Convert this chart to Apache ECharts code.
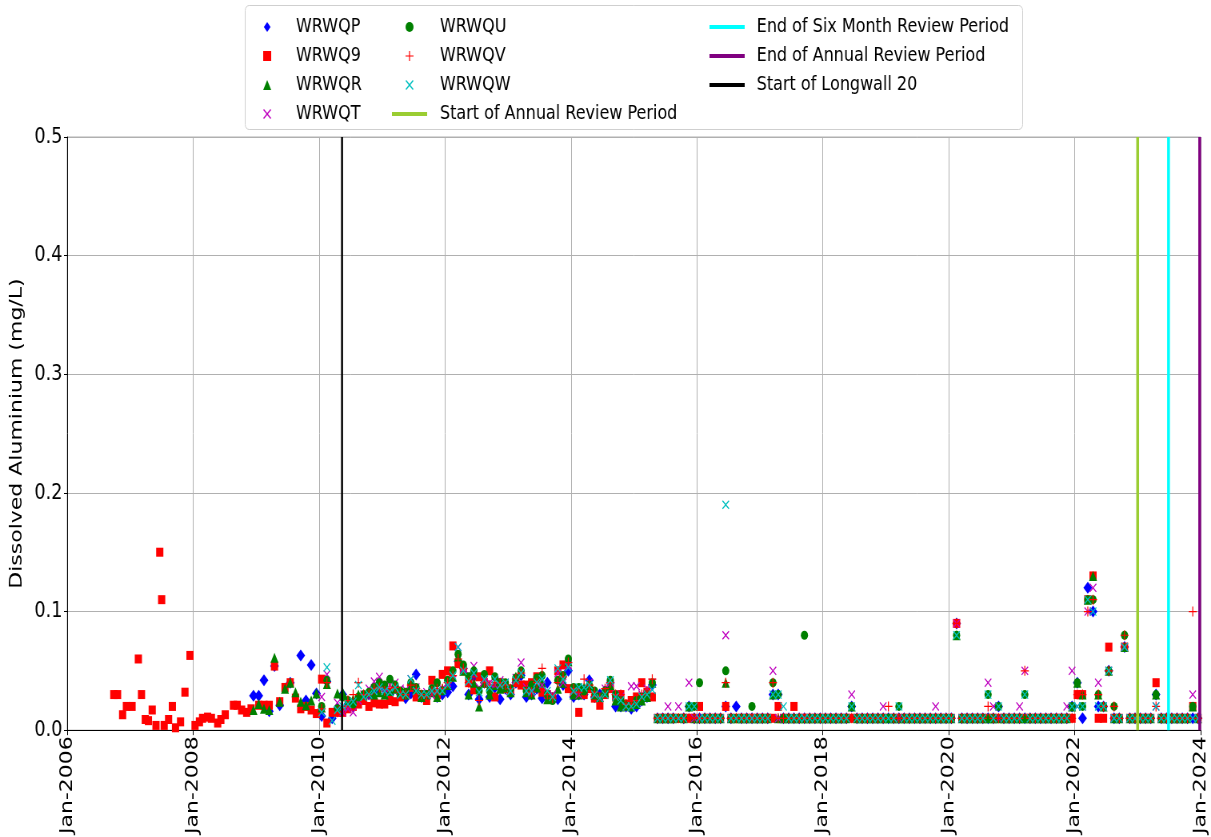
<!DOCTYPE html>
<html>
<head>
<meta charset="utf-8">
<script src="https://cdn.jsdelivr.net/npm/echarts@6/dist/echarts.min.js"></script>
<style>
  html, body { margin: 0; padding: 0; overflow: hidden; background: #fff; }
  /* reference picture is squeezed horizontally, draw wide then squeeze */
  #chart { width: 1514px; height: 837px; transform: scaleX(0.79987); transform-origin: 0 0; }
</style>
</head>
<body>
<div id="chart"></div>
<script>
const _ = null;

// axis ticks
const xTicks = [2006, 2008, 2010, 2012, 2014, 2016, 2018, 2020, 2022, 2024];
const yTicks = [0, 0.1, 0.2, 0.3, 0.4, 0.5];

// event dates (decimal years)
const longwallStart = 2010.365;
const annualStart = 2023.0;
const sixMonthEnd = 2023.49;
const annualEnd = 2023.985;

// WRWQ9 early samples (irregular), decimal year / mg/L
const wrwq9EarlyYear = [2006.74, 2006.80, 2006.88, 2006.94, 2007.03, 2007.13, 2007.18, 2007.24, 2007.29, 2007.35,
  2007.41, 2007.47, 2007.50, 2007.54, 2007.61, 2007.67, 2007.72, 2007.80, 2007.87, 2007.95,
  2008.03, 2008.10, 2008.15, 2008.23, 2008.29, 2008.39, 2008.44, 2008.51, 2008.64, 2008.70,
  2008.77, 2008.85, 2008.92];
const wrwq9EarlyVal = [.030, .030, .013, .020, .020, .060, .030, .009, .008, .017,
  .004, .150, .110, .004, .009, .020, .002, .007, .032, .063,
  .004, .007, .010, .011, .010, .006, .009, .013, .021, .021,
  .017, .015, .018];

// monthly samples from Jan 2008 (one row per year)
const START_YEAR = 2008;
const wrwqpVals = [
  _,_,_,_,_,_,_,_,_,_,_,.029,
  .029,.042,.016,.054,.021,_,.040,_,.063,.025,.055,.031,
  .012,.041,.010,.018,.030,.022,.020,.026,.028,.030,.033,.039,
  .034,.030,.036,.030,.027,.031,.047,.028,.027,.033,.028,.030,
  .032,.037,.058,.052,.030,.045,.026,.040,.028,.036,.026,.035,
  .030,.040,.046,.028,.030,.035,.027,.040,.027,.026,.038,.050,
  .028,.030,.030,.042,.028,.030,.033,.040,.020,.020,.020,.018,
  .020,.025,.028,.038,.010,.010,.010,.010,_,.010,.020,.010,
  .010,.010,.010,.010,.010,.020,.010,.020,.010,.010,.010,.010,
  .010,.010,.030,.030,.010,.010,.010,.010,.010,.010,.010,.010,
  .010,.010,.010,.010,.010,.020,.010,.010,.010,.010,.010,.010,
  .010,.010,.010,.010,.010,.010,.010,.010,.010,.010,.010,.010,
  .010,.090,.010,.010,.010,.010,.010,.010,.010,.020,.010,.010,
  .010,.010,.010,.010,.010,.010,.010,.010,.010,.010,.010,.020,
  .040,.010,.120,.100,.020,.020,.050,.010,.010,.070,.010,.010,
  .010,.010,.010,.030,.010,.010,.010,.010,.010,.010,.010,.010
];
const wrwq9Vals = [
  _,_,_,_,_,_,_,_,_,_,_,_,
  .021,.021,.021,.054,.024,.036,.040,.027,.018,.020,.017,.014,
  .043,.006,.015,.015,.015,.018,.020,.022,.025,.020,.023,.022,
  .022,.025,.024,.028,.030,.036,.028,.030,.025,.042,.030,.047,
  .050,.071,.056,.050,.040,.034,.045,.040,.050,.028,.040,.035,
  .032,.040,.038,.038,.040,.045,.032,.030,.028,.050,.055,.035,
  .032,.015,.030,.035,.027,.021,.030,.035,.028,.030,.022,.025,
  .028,.040,.032,.028,.010,.010,.010,.010,.010,.010,.010,.010,
  .020,.010,.010,.010,.010,.020,.010,.010,.010,.010,.010,.010,
  .010,.010,.010,.020,.010,.010,.020,.010,.010,.010,.010,.010,
  .010,.010,.010,.010,.010,.010,.010,.010,.010,.010,.010,.010,
  .010,.010,.010,.010,.010,.010,.010,.010,.010,.010,.010,.010,
  .010,.090,.010,.010,.010,.010,.010,.010,.010,.010,.010,.010,
  .010,.010,.010,.010,.010,.010,.010,.010,.010,.010,.010,.010,
  .030,.030,.110,.130,.010,.010,.070,.010,.010,.070,.010,.010,
  .010,.010,.010,.040,.010,.010,.010,.010,.010,.010,.020,.010
];
const wrwqrVals = [
  _,_,_,_,_,_,_,_,_,_,_,.017,
  .022,.018,.017,.061,.024,.035,.040,.032,.024,.021,.025,.031,
  .019,.039,_,.031,.032,.025,.026,.030,.030,.032,.030,.032,
  .030,.033,.035,.032,.030,.038,.035,.028,.030,.032,.028,.035,
  .038,.045,.062,.050,.030,.040,.020,.040,.030,.038,.035,.036,
  .032,.045,.048,.032,.030,.036,.040,.026,.028,.035,.040,.058,
  .030,.030,.036,.038,.030,.028,.032,.038,.025,.020,.022,.020,
  .022,.025,.028,.040,.010,.010,.010,.010,_,.010,.020,.010,
  .010,.010,.010,.010,.010,.040,.010,.010,.010,.010,.010,.010,
  .010,.010,.030,.010,.010,.010,.010,.010,.010,.010,.010,.010,
  .010,.010,.010,.010,.010,.020,.010,.010,.010,.010,.010,.010,
  .010,.010,.010,.010,.010,.010,.010,.010,.010,.010,.010,.010,
  .010,.080,.010,.010,.010,.010,.010,.010,.010,.010,.010,.010,
  .010,.010,.010,.010,.010,.010,.010,.010,.010,.010,.010,.020,
  .040,.030,.110,.130,.030,.020,.050,.010,.010,.070,.010,.010,
  .010,.010,.010,.030,.010,.010,.010,.010,.010,.010,.020,.010
];
const wrwqtVals = [
  _,_,_,_,_,_,_,_,_,_,_,_,
  _,_,_,_,_,_,_,_,_,_,_,_,
  .028,.047,_,.023,.015,.018,.015,.025,.030,.035,.041,.045,
  .036,.038,.040,.035,.034,.043,.036,.030,.032,.030,.036,.035,
  .040,.048,.070,.052,.047,.054,.036,.042,.040,.038,.042,.040,
  .036,.044,.057,.036,.032,.042,.038,.030,.030,.048,.040,.055,
  .033,.030,.035,.040,.030,.028,.035,.040,.030,.028,.020,.037,
  .037,.030,.035,.040,.010,.010,.020,.010,.020,.010,.040,.010,
  .010,.010,.010,.010,.010,.080,.010,.010,.010,.010,.010,.010,
  .010,.010,.050,.010,.010,.010,.010,.010,.010,.010,.010,.010,
  .010,.010,.010,.010,.010,.030,.010,.010,.010,.010,.010,.020,
  .010,.010,.010,.010,.010,.010,.010,.010,.010,.020,.010,.010,
  .010,.090,.010,.010,.010,.010,.010,.040,.020,.010,.010,.010,
  .010,.020,.050,.010,.010,.010,.010,.010,.010,.010,.020,.050,
  .020,.020,.100,.120,.040,.020,.050,.010,.010,.070,.010,.010,
  .010,.010,.010,.020,.010,.010,.010,.010,.010,.010,.030,.010
];
const wrwquVals = [
  _,_,_,_,_,_,_,_,_,_,_,_,
  _,_,_,_,_,_,_,_,_,_,_,_,
  .020,.042,_,.018,.028,.025,.022,.028,.030,.032,.036,.040,
  .038,.043,.038,.033,.032,.040,.036,.030,.030,.035,.040,.033,
  .042,.050,.064,.055,.045,.050,.033,.047,.033,.045,.040,.040,
  .035,.044,.050,.033,.038,.044,.046,.030,.025,.042,.046,.060,
  .036,.036,.033,.038,.033,.028,.033,.042,.030,.025,.020,.020,
  .025,.028,.030,.040,.010,.010,.010,.010,.010,.010,.020,.020,
  .040,.010,.010,.010,.010,.050,.010,.010,.010,.010,.020,.010,
  .010,.010,.040,.030,.010,.010,.010,.010,.080,.010,.010,.010,
  .010,.010,.010,.010,.010,.020,.010,.010,.010,.010,.010,.010,
  .010,.010,.020,.010,.010,.010,.010,.010,.010,.010,.010,.010,
  .010,.080,.010,.010,.010,.010,.010,.030,.010,.020,.010,.010,
  .010,.010,.030,.010,.010,.010,.010,.010,.010,.010,.010,.020,
  .040,.020,.110,.110,.030,.020,.050,.020,.010,.080,.010,.010,
  .010,.010,.010,.030,.010,.010,.010,.010,.010,.010,.020,.010
];
const wrwqvVals = [
  _,_,_,_,_,_,_,_,_,_,_,_,
  _,_,_,_,_,_,_,_,_,_,_,_,
  .018,.040,_,.015,.020,.025,.030,.040,.030,.030,.035,.036,
  .033,.035,.036,.032,.030,.038,.035,.030,.028,.033,.035,.035,
  .040,.046,.060,.052,.040,.045,.025,.040,.038,.040,.040,.038,
  .035,.043,.048,.035,.032,.040,.052,.030,.027,.040,.045,.057,
  .035,.032,.043,.038,.032,.028,.035,.040,.030,.030,.022,.022,
  .025,.030,.033,.043,.010,.010,.010,.010,.010,.010,.010,.010,
  .010,.010,.010,.010,.010,.040,.010,.010,.010,.010,.010,.010,
  .010,.010,.040,.010,.010,.010,.010,.010,.010,.010,.010,.010,
  .010,.010,.010,.010,.010,.010,.010,.010,.010,.010,.010,.010,
  .020,.010,.010,.010,.010,.010,.010,.010,.010,.010,.010,.010,
  .010,.090,.010,.010,.010,.010,.010,.020,.010,.010,.010,.010,
  .010,.010,.050,.010,.010,.010,.010,.010,.010,.010,.010,.010,
  .030,.030,.100,.110,.030,.020,.050,.020,.010,.080,.010,.010,
  .010,.010,.010,.020,.010,.010,.010,.010,.010,.010,.100,.010
];
const wrwqwVals = [
  _,_,_,_,_,_,_,_,_,_,_,_,
  _,_,_,_,_,_,_,_,_,_,_,_,
  .015,.053,.008,.017,.020,.022,.024,.038,.028,.030,.033,.036,
  .033,.032,.036,.030,.030,.043,.033,.030,.030,.033,.033,.033,
  .038,.046,.070,.050,.041,.048,.032,.043,.036,.043,.038,.040,
  .033,.042,.048,.033,.033,.040,.043,.033,.028,.052,.043,.053,
  .033,.036,.036,.038,.030,.027,.030,.042,.028,.025,.020,.020,
  .022,.028,.030,.034,.010,.010,.010,.010,.010,.010,.020,.020,
  .010,.010,.010,.010,.010,.190,.010,.010,.010,.010,.010,.010,
  .010,.010,.030,.030,.020,.010,.010,.010,.010,.010,.010,.010,
  .010,.010,.010,.010,.010,.020,.010,.010,.010,.010,.010,.010,
  .010,.010,.020,.010,.010,.010,.010,.010,.010,.010,.010,.010,
  .010,.080,.010,.010,.010,.010,.010,.030,.010,.020,.010,.010,
  .010,.010,.030,.010,.010,.010,.010,.010,.010,.010,.010,.020,
  .020,.020,.110,.100,.020,.020,.050,.010,.010,.070,.010,.010,
  .010,.010,.010,.020,.010,.010,.010,.010,.010,.010,.010,.010
];

// --- marker shapes ---
const xPath = 'path://M0,1L1,0L5,4L9,0L10,1L6,5L10,9L9,10L5,6L1,10L0,9L4,5Z';
const plusPath = 'path://M4.4,0H5.6V4.4H10V5.6H5.6V10H4.4V5.6H0V4.4H4.4Z';
const diamondPath = 'path://M5,0L10,6L5,12L0,6Z';
const squarePath = 'path://M0,0H10V10H0Z';
const trianglePath = 'path://M5,0L10,10H0Z';
const barPath = 'path://M0,0H44V4H0Z';

const FONT = 'DejaVu Sans';

function monthly(vals) {
  const out = [];
  vals.forEach((v, i) => {
    if (v !== null) out.push([START_YEAR + (i + 0.5) / 12, v]);
  });
  return out;
}

function scatter(name, data, symbol, size, color) {
  return {
    name, type: 'scatter', data, symbol, symbolSize: size,
    itemStyle: { color, opacity: 1 },
    emphasis: { disabled: true },
    z: 2
  };
}

function vline(name, x, color, width) {
  return {
    name, type: 'line', data: [[x, 0], [x, 0.5]],
    symbol: 'none', lineStyle: { color, width },
    itemStyle: { color },
    z: 3
  };
}

const wrwq9Data = wrwq9EarlyYear.map((y, i) => [y, wrwq9EarlyVal[i]]).concat(monthly(wrwq9Vals));

function legendText(pad) {
  return { fontFamily: FONT, fontSize: 20, color: '#000', padding: [0, 0, 0, pad] };
}
// one vertical legend block; rows 29px apart
function legendCol(left, top, width, pad, data) {
  return {
    left, top, orient: 'vertical', padding: 0,
    itemWidth: width, itemHeight: 10, itemGap: 9, selectedMode: false,
    textStyle: legendText(pad), data
  };
}

const chart = echarts.init(document.getElementById('chart'), null, { renderer: 'canvas' });

chart.setOption({
  animation: false,
  backgroundColor: '#fff',
  textStyle: { fontFamily: FONT },
  graphic: [{
    type: 'rect', left: 306, top: 5, silent: true, z: 0,
    shape: { width: 972, height: 124, r: 5 },
    style: { fill: '#fff', stroke: '#cfcfcf', lineWidth: 1 }
  }],
  legend: [
    legendCol(329, 17, 10, 26, [
      { name: 'WRWQP', icon: diamondPath },
      { name: 'WRWQ9', icon: squarePath },
      { name: 'WRWQR', icon: trianglePath },
      { name: 'WRWQT', icon: xPath }
    ]),
    legendCol(507, 17, 10, 28, [
      { name: 'WRWQU', icon: 'circle' },
      { name: 'WRWQV', icon: plusPath },
      { name: 'WRWQW', icon: xPath }
    ]),
    legendCol(490, 104, 44, 11, [
      { name: 'Start of Annual Review Period', icon: barPath }
    ]),
    legendCol(887, 17, 44, 10, [
      { name: 'End of Six Month Review Period', icon: barPath },
      { name: 'End of Annual Review Period', icon: barPath },
      { name: 'Start of Longwall 20', icon: barPath }
    ])
  ],
  grid: {
    left: 84, right: 13, top: 137, bottom: 98,
    show: true, borderColor: '#b0b0b0', borderWidth: 1, backgroundColor: 'transparent'
  },
  xAxis: {
    type: 'value',
    min: xTicks[0], max: xTicks[xTicks.length - 1], interval: 2,
    axisLine: { show: true, lineStyle: { color: '#000', width: 1 } },
    axisTick: { show: true, length: 5, lineStyle: { color: '#000' } },
    axisLabel: {
      rotate: 90, margin: 6, fontSize: 22, color: '#000', fontFamily: FONT,
      formatter: v => 'Jan-' + v
    },
    splitLine: { show: true, lineStyle: { color: '#b0b0b0', width: 1 } }
  },
  yAxis: {
    type: 'value',
    min: yTicks[0], max: yTicks[yTicks.length - 1], interval: 0.1,
    name: 'Dissolved Aluminium (mg/L)',
    nameLocation: 'middle', nameGap: 49,
    nameTextStyle: { fontSize: 22, color: '#000', fontFamily: FONT },
    axisLine: { show: true, lineStyle: { color: '#000', width: 1 } },
    axisTick: { show: true, length: 4, lineStyle: { color: '#000' } },
    axisLabel: { fontSize: 22, color: '#000', margin: 6, fontFamily: FONT, formatter: v => v.toFixed(1) },
    splitLine: { show: true, lineStyle: { color: '#b0b0b0', width: 1 } }
  },
  series: [
    scatter('WRWQP', monthly(wrwqpVals), 'diamond', [11, 12], '#0000ff'),
    scatter('WRWQ9', wrwq9Data, 'rect', [9, 9], '#ff0000'),
    scatter('WRWQR', monthly(wrwqrVals), 'triangle', [10, 10], '#008000'),
    scatter('WRWQT', monthly(wrwqtVals), xPath, [9, 9], '#bf00bf'),
    scatter('WRWQU', monthly(wrwquVals), 'circle', 9, '#008000'),
    scatter('WRWQV', monthly(wrwqvVals), plusPath, [10, 10], '#ff0000'),
    scatter('WRWQW', monthly(wrwqwVals), xPath, [9, 9], '#00bfbf'),
    vline('Start of Annual Review Period', annualStart, '#9acd32', 3.5),
    vline('End of Six Month Review Period', sixMonthEnd, '#00ffff', 3.5),
    vline('End of Annual Review Period', annualEnd, '#800080', 3.5),
    vline('Start of Longwall 20', longwallStart, '#000000', 2.5)
  ]
});
</script>
</body>
</html>
